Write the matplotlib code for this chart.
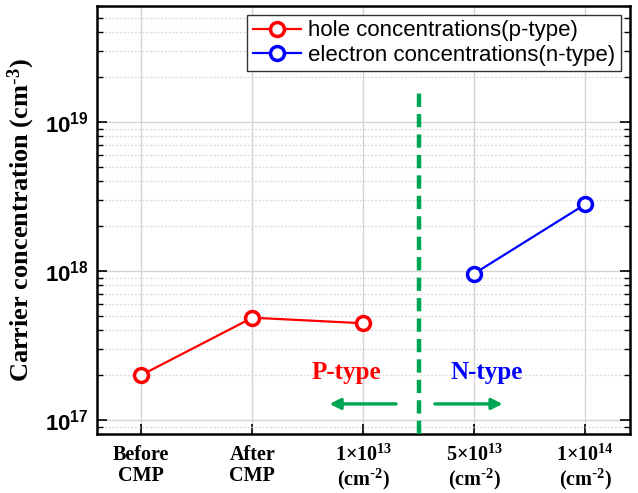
import matplotlib.pyplot as plt
import numpy as np
from matplotlib.ticker import LogLocator, FixedLocator, NullFormatter

# data
cm2 = r'(cm$\mathregular{^{\text{-}2}}$)'
categories = ['Before\nCMP', 'After\nCMP',
              r'1$\mathregular{\times}$10$\mathregular{^{13}}$' + '\n' + cm2,
              r'5$\mathregular{\times}$10$\mathregular{^{13}}$' + '\n' + cm2,
              r'1$\mathregular{\times}$10$\mathregular{^{14}}$' + '\n' + cm2]
hole_x = [0, 1, 2]
hole_conc = [2.0e17, 4.85e17, 4.45e17]
elec_x = [3, 4]
elec_conc = [9.6e17, 2.8e18]

green = '#00a651'

fig = plt.figure(figsize=(6.38, 4.93), dpi=100)
ax = fig.add_axes([0.152, 0.12, 0.835, 0.868])

ax.plot(hole_x, hole_conc, color='red', lw=1.6, marker='o', ms=10, mfc='white',
        mec='red', mew=2.5, label='hole concentrations(p-type)', zorder=5)
ax.plot(elec_x, elec_conc, color='blue', lw=1.6, marker='o', ms=10, mfc='white',
        mec='blue', mew=2.5, label='electron concentrations(n-type)', zorder=5)

ax.set_yscale('log')
ax.set_ylim(8.06e16, 6.0e19)
ax.set_xlim(-0.4, 4.4)

# dividing line between p and n type
ax.plot([2.5, 2.5], [8.06e16, 1.7e19], color=green, lw=3.2, ls=(0, (3, 1.6)), zorder=4)

ax.text(1.85, 2.07e17, 'P-type', color='red', fontsize=18, fontweight='bold',
        family='Liberation Serif', ha='center', va='center')
ax.text(3.11, 2.07e17, 'N-type', color='blue', fontsize=18, fontweight='bold',
        family='Liberation Serif', ha='center', va='center')
ax.annotate('', xy=(1.67, 1.28e17), xytext=(2.32, 1.28e17),
            arrowprops=dict(arrowstyle='-|>', color=green, lw=2.4, mutation_scale=16))
ax.annotate('', xy=(3.28, 1.28e17), xytext=(2.62, 1.28e17),
            arrowprops=dict(arrowstyle='-|>', color=green, lw=2.4, mutation_scale=16))

# ticks
ax.xaxis.set_major_locator(FixedLocator(range(len(categories))))
ax.set_xticklabels(categories, family='Liberation Serif', fontweight='bold', fontsize=14.5,
                   linespacing=1.05)
ax.yaxis.set_minor_locator(LogLocator(base=10, subs=np.arange(2, 10), numticks=20))
ax.yaxis.set_minor_formatter(NullFormatter())
ax.set_yticks([1e17, 1e18, 1e19])
ax.set_yticklabels([r'$\mathregular{10^{17}}$', r'$\mathregular{10^{18}}$', r'$\mathregular{10^{19}}$'],
                   family='Liberation Sans', fontweight='bold', fontsize=16)
ax.tick_params(axis='y', which='major', direction='in', length=7, width=1.2, right=True, pad=6)
ax.tick_params(axis='y', which='minor', direction='in', length=4, width=1, right=True)
ax.tick_params(axis='x', which='major', direction='in', length=7, width=1.2, pad=8)

ax.grid(True, which='major', color='#d4d4d4', lw=1)
ax.grid(True, which='minor', axis='y', color='#d8d8d8', lw=0.9, ls=(0, (1.5, 1.5)))
ax.set_axisbelow(True)
for s in ax.spines.values():
    s.set_linewidth(1.8)

ax.set_ylabel(r'Carrier concentration (cm$\mathregular{^{\text{-}3}}$)', family='Liberation Serif',
              fontweight='bold', fontsize=19, labelpad=6)

leg = ax.legend(loc='upper right', prop={'family': 'Liberation Sans', 'size': 16},
                fancybox=False, edgecolor='#333333', framealpha=1, borderaxespad=0.4,
                handlelength=2.2, borderpad=0.25, labelspacing=0.15, handletextpad=0.3)
leg.get_frame().set_linewidth(1)

fig.savefig('out.png', dpi=100)
